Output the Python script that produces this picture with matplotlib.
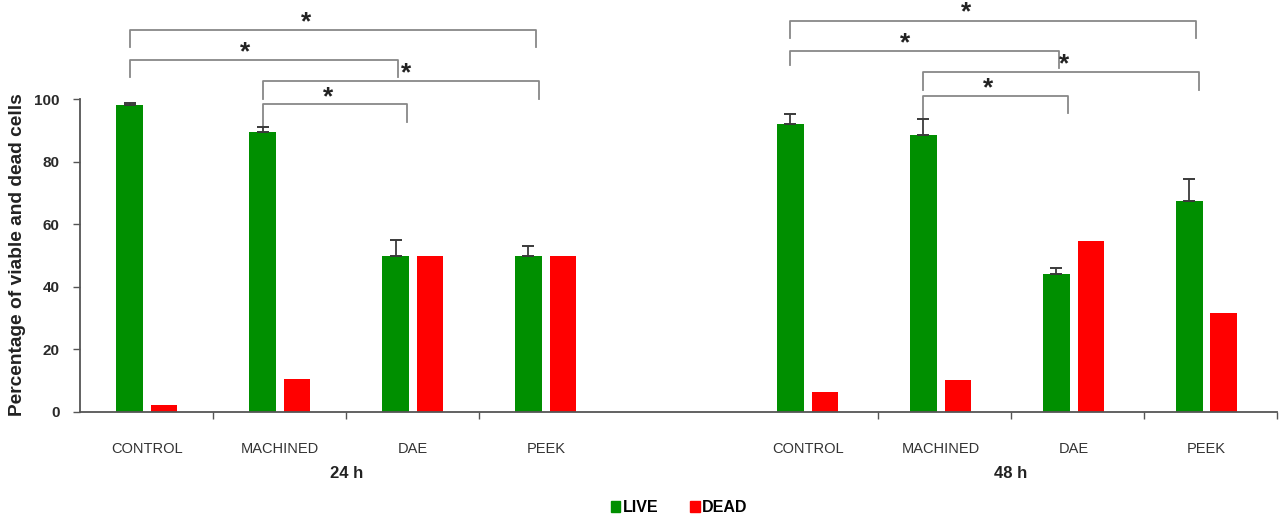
import numpy as np
import matplotlib
matplotlib.use('Agg')
import matplotlib.pyplot as plt
from matplotlib.patches import Patch

plt.rcParams['font.family'] = ['Liberation Sans', 'DejaVu Sans']

categories = ["CONTROL", "MACHINED", "DAE", "PEEK"]
groups = ["24 h", "48 h"]

# mean % of viable / dead cells, 24 h then 48 h
live_24 = [98.1, 89.4, 49.8, 49.8]
live_24_err = [0.7, 1.6, 5.1, 3.3]
dead_24 = [2.0, 10.3, 49.8, 49.8]

live_48 = [92.1, 88.7, 44.0, 67.3]
live_48_err = [3.1, 4.9, 1.9, 7.3]
dead_48 = [6.3, 10.0, 54.6, 31.4]

# significance brackets: (x left, x right, y bar, y left foot, y right foot)
brackets = [
    (0.37, 3.43, 122.2, 116.9, 116.9),
    (0.37, 2.39, 112.6, 107.2, 107.2),
    (1.37, 3.45, 105.9, 100.1, 100.1),
    (1.37, 2.46, 98.4, 91.0, 92.8),
    (5.34, 8.39, 125.2, 119.7, 119.7),
    (5.34, 7.36, 115.6, 111.0, 109.9),
    (6.34, 8.41, 108.6, 103.0, 103.0),
    (6.34, 7.43, 101.2, 93.6, 95.7),
]
star_x = [1.70, 1.24, 2.45, 1.86, 6.66, 6.20, 7.40, 6.83]
star_y = [124.6, 115.0, 108.4, 100.6, 128.0, 118.0, 111.2, 103.6]

GREEN = '#008f00'
RED = '#ff0000'

fig = plt.figure(figsize=(12.79, 5.17), dpi=100)
ax = fig.add_axes([0.0629, 0.204, 0.9355, 0.796])

xc = np.array([0.5, 1.5, 2.5, 3.5, 5.47, 6.47, 7.47, 8.47])
live = np.array(live_24 + live_48)
live_err = np.array(live_24_err + live_48_err)
dead = np.array(dead_24 + dead_48)
w = 0.2
off = 0.13

ax.bar(xc - off, live, w, color=GREEN, zorder=2)
ax.bar(xc + off, dead, w, color=RED, zorder=2)
ax.errorbar(xc - off, live, yerr=[np.zeros_like(live_err), live_err],
            fmt='none', ecolor='#3a3a3a', elinewidth=1.3, capsize=4.5,
            capthick=1.4, zorder=3)

for (x0, x1, yb, yl, yr) in brackets:
    ax.plot([x0, x0, x1, x1], [yl, yb, yb, yr], color='#888888', lw=1.3,
            clip_on=False, zorder=1)
for sx, sy in zip(star_x, star_y):
    ax.text(sx, sy, '*', ha='center', va='center', fontsize=19,
            fontweight='bold', color='#222222')

ax.set_xlim(0, 9)
ax.set_ylim(0, 131.8)

for s in ['top', 'right']:
    ax.spines[s].set_visible(False)
ax.spines['left'].set_bounds(0, 100)
ax.spines['left'].set_color('#555555')
ax.spines['bottom'].set_color('#555555')
ax.spines['left'].set_linewidth(1.3)
ax.spines['bottom'].set_linewidth(1.3)

ax.set_yticks(np.arange(0, 101, 20))
ax.tick_params(axis='y', length=5, width=1.0, color='#555555',
               labelsize=11, pad=10)
for lab in ax.get_yticklabels():
    lab.set_fontweight('bold')
    lab.set_color('#2a2a2a')

ax.set_xticks([1, 2, 3, 6, 7, 8, 9])
ax.set_xticklabels([])
ax.tick_params(axis='x', length=5, width=1.0, color='#555555')
ax.set_xticks(xc, minor=True)
ax.set_xticklabels(categories + categories, minor=True)
ax.tick_params(axis='x', which='minor', length=0, pad=22, labelsize=10.5,
               labelcolor='#333333')

trans = ax.get_xaxis_transform()
ax.text(2.0, -0.15, groups[0], transform=trans, ha='center', va='center',
        fontsize=12, fontweight='bold', color='#222222')
ax.text(7.0, -0.15, groups[1], transform=trans, ha='center', va='center',
        fontsize=12, fontweight='bold', color='#222222')

fig.text(0.014, 0.508, 'Percentage of viable and dead cells', rotation=90,
         ha='center', va='center', fontsize=13.8, fontweight='bold',
         color='#222222')

handles = [Patch(color=GREEN, label='LIVE'), Patch(color=RED, label='DEAD')]
fig.legend(handles=handles, loc='center', bbox_to_anchor=(0.531, 0.018),
           ncol=2, frameon=False, handlelength=0.6, handleheight=0.6,
           handletextpad=0.15, columnspacing=2.0,
           prop={'weight': 'bold', 'size': 11.5})

fig.savefig('out.png', dpi=100)
